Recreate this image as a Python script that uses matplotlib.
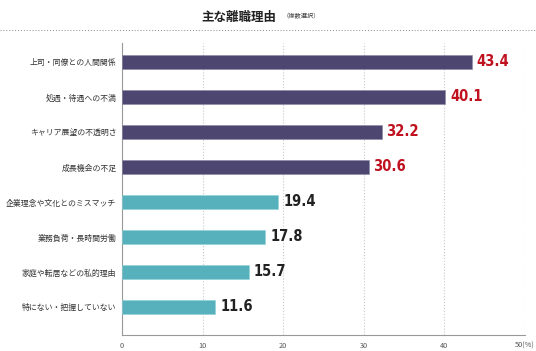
import matplotlib
matplotlib.use('Agg')
import matplotlib.pyplot as plt
from matplotlib.lines import Line2D

plt.rcParams['font.family'] = ['Noto Sans CJK JP', 'DejaVu Sans']

# data
reasons = ['上司・同僚との人間関係', '処遇・待遇への不満', 'キャリア展望の不透明さ', '成長機会の不足',
           '企業理念や文化とのミスマッチ', '業務負荷・長時間労働', '家庭や転居などの私的理由', '特にない・把握していない']
values = [43.4, 40.1, 32.2, 30.6, 19.4, 17.8, 15.7, 11.6]
ticks = [0, 10, 20, 30, 40, 50]
tick_labels = ['0', '10', '20', '30', '40', '50(%)']

dark = '#4d4670'
teal = '#56b1bd'
colors = [dark] * 4 + [teal] * 4
label_colors = ['#c0111f'] * 4 + ['#222222'] * 4

fig = plt.figure(figsize=(5.36, 3.51), dpi=100)
ax = fig.add_axes([0.2276, 0.0456, 0.7519, 0.832])

ypos = list(range(len(reasons)))
ax.barh(ypos, values, height=0.42, color=colors, edgecolor='#8a86a6', linewidth=0.4, zorder=3)
for i in range(4, 8):
    ax.patches[i].set_edgecolor('#8fd0d8')

for y, v, c in zip(ypos, values, label_colors):
    ax.text(v + 0.6, y, '%.1f' % v, color=c, fontsize=10.5, fontweight='bold',
            fontfamily='DejaVu Sans', fontstretch='condensed', va='center', ha='left')

ax.set_xlim(0, 50)
ax.set_ylim(7.8, -0.54)
ax.set_yticks(ypos)
ax.set_yticklabels(reasons, fontsize=5.7, color='#333333')
ax.set_xticks(ticks)
ax.set_xticklabels(tick_labels, fontsize=5.3, color='#555555')
ax.tick_params(axis='y', length=0, pad=4)
ax.tick_params(axis='x', length=0, pad=5)

ax.grid(axis='x', color='#c8c8c8', linestyle=':', linewidth=0.8, zorder=0)
for s in ['top', 'right']:
    ax.spines[s].set_visible(False)
ax.spines['left'].set_color('#999999')
ax.spines['bottom'].set_color('#999999')
ax.spines['left'].set_linewidth(0.8)
ax.spines['bottom'].set_linewidth(0.8)

# title and dotted separator
fig.text(0.445, 0.95, '主な離職理由', fontsize=9, fontweight='bold', ha='center', va='center', color='#222222')
fig.text(0.527, 0.955, '（複数選択）', fontsize=4.5, ha='left', va='center', color='#444444')
fig.add_artist(Line2D([0, 1], [0.915, 0.915], transform=fig.transFigure, color='#888888',
                      linestyle=(0, (1, 2)), linewidth=0.7))

fig.savefig('out.png', dpi=100)
